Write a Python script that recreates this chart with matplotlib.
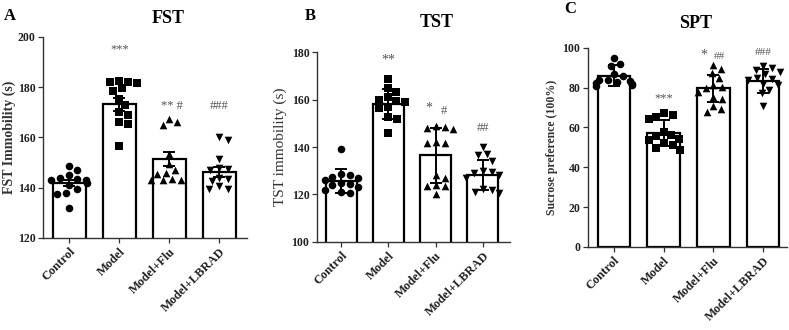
import numpy as np
import matplotlib
matplotlib.use('Agg')
import matplotlib.pyplot as plt

plt.rcParams['font.family'] = ['Liberation Serif', 'DejaVu Serif']

groups = ['Control', 'Model', 'Model+Flu', 'Model+LBRAD']
markers = ['o', 's', '^', 'v']

# FST (mean +/- SEM)
fst_mean = [141.8, 173.2, 151.5, 146.2]
fst_err = [1.3, 2.5, 2.9, 2.1]
fst_pts = [
    [148.5, 147, 145, 144, 143.5, 143, 143, 142, 141, 139.5, 138, 137.5, 132],
    [182.5, 182, 181.5, 182, 179.5, 178.5, 175.5, 173, 170, 169, 166, 165.5, 156.5],
    [167.5, 166, 165, 153.5, 149.5, 147, 146, 145.5, 143.5, 143, 143, 143],
    [160, 159, 151.5, 148, 147.5, 147, 144, 143.5, 142.5, 140.5, 139.5, 139.5],
]

# TST (mean +/- SD)
tst_mean = [125.8, 158.0, 136.5, 128.3]
tst_err = [5.0, 6.3, 11.5, 6.3]
tst_pts = [
    [139, 128.5, 128, 127.5, 127, 126, 125, 124.5, 124, 123, 122, 121, 120.5],
    [168.5, 165, 163, 161, 160, 159.5, 159, 157, 156.5, 152.5, 152, 146],
    [149, 148.5, 148, 147.5, 142, 141.5, 141.5, 128, 127, 124, 123.5, 123.5, 120],
    [140, 137, 136.5, 134, 130, 129.5, 129, 128, 127, 122.5, 122, 121, 120.5],
]

# SPT (mean +/- SD)
spt_mean = [86.0, 57.2, 79.6, 83.2]
spt_err = [5.2, 6.5, 6.8, 6.0]
spt_pts = [
    [95, 92, 91, 87, 86, 84, 84, 83.5, 83, 82.5, 82, 81.5, 81],
    [67.5, 66.5, 65.5, 64, 57.5, 56, 55.5, 54, 53.5, 52, 51, 49.5, 48.5],
    [91.5, 89.5, 87.5, 85, 81.5, 80.5, 80, 78, 75.5, 74.5, 71, 69.5, 68],
    [91, 90, 89, 88, 87, 85, 84.5, 84, 82, 81.5, 79, 77.5, 71],
]

TXT = '#222222'
GREY = '#555555'


def swarm_offsets(ax, xc, ys, diam=8.0, limit=0.36):
    """Spread points sideways (in pixels) so they don't overlap, like a beeswarm."""
    tr = ax.transData
    py = [tr.transform((xc, y))[1] for y in ys]
    x_scale = tr.transform((xc + 1, 0))[0] - tr.transform((xc, 0))[0]
    placed = []
    res = [0.0] * len(ys)
    for i in np.argsort(ys)[::-1]:
        yp = py[i]
        best = None
        for k in range(0, 40):
            for sgn in (1, -1):
                cand = sgn * k * 1.5
                if all((cand - p[0]) ** 2 + (yp - p[1]) ** 2 >= diam ** 2 for p in placed):
                    best = cand
                    break
            if best is not None:
                break
        if best is None:
            best = 0.0
        best = max(min(best / x_scale, limit), -limit) * x_scale
        placed.append((best, yp))
        res[i] = xc + best / x_scale
    return res


def panel(ax, means, errs, pts, ylim, yticks, xlim, width):
    x = np.arange(len(groups))
    ax.set_xlim(*xlim)
    ax.set_ylim(*ylim)
    ax.bar(x, means, width=width, color='white', edgecolor='black', linewidth=1.6, zorder=1)
    for i, ys in enumerate(pts):
        xs = swarm_offsets(ax, x[i], ys)
        ax.scatter(xs, ys, marker=markers[i], s=30, color='black', linewidths=0, zorder=2, clip_on=False)
    ax.errorbar(x, means, yerr=errs, fmt='none', ecolor='black', elinewidth=1.4,
                capsize=4.5, capthick=1.4, zorder=3)
    ax.set_yticks(yticks)
    ax.set_xticks(x)
    ax.set_xticklabels(groups, rotation=45, ha='right', rotation_mode='anchor',
                       fontsize=9, fontweight='bold', color=TXT)
    for lab in ax.get_yticklabels():
        lab.set_fontweight('bold')
        lab.set_fontsize(8.5)
        lab.set_color(TXT)
    for s in ('top', 'right'):
        ax.spines[s].set_visible(False)
    for s in ('left', 'bottom'):
        ax.spines[s].set_color('#333333')
        ax.spines[s].set_linewidth(1.0)
    ax.tick_params(direction='out', length=3.5, width=0.9, color='#333333', pad=2)


fig = plt.figure(figsize=(7.89, 3.30), dpi=100)

axA = fig.add_axes([0.0545, 0.279, 0.2585, 0.609])
panel(axA, fst_mean, fst_err, fst_pts, (120, 200), [120, 140, 160, 180, 200], (-0.53, 3.55), 0.66)
axA.set_ylabel('FST Immobility (s)', fontsize=10, fontweight='bold', color='#333333', labelpad=1)
axA.text(1, 195, '***', ha='center', va='center', fontsize=9, color=GREY)
axA.text(2.05, 172.5, '** #', ha='center', va='center', fontsize=9, color=GREY)
axA.text(3, 172.5, '###', ha='center', va='center', fontsize=9, color=GREY)

axB = fig.add_axes([0.4018, 0.267, 0.2442, 0.575])
panel(axB, tst_mean, tst_err, tst_pts, (100, 180), [100, 120, 140, 160, 180], (-0.51, 3.57), 0.66)
axB.set_ylabel('TST immobility (s)', fontsize=11, color='#333333', labelpad=3)
axB.text(1, 176.5, '**', ha='center', va='center', fontsize=10, color=GREY)
axB.text(1.85, 156.3, '*', ha='center', va='center', fontsize=10, color=GREY)
axB.text(2.18, 155.3, '#', ha='center', va='center', fontsize=9, color=GREY)
axB.text(3, 148, '##', ha='center', va='center', fontsize=9, color=GREY)

axC = fig.add_axes([0.7452, 0.252, 0.2523, 0.603])
panel(axC, spt_mean, spt_err, spt_pts, (0, 100), [0, 20, 40, 60, 80, 100], (-0.52, 3.48), 0.65)
axC.set_ylabel('Sucrose preference (100%)', fontsize=8.5, fontweight='bold', color='#333333', labelpad=3)
axC.text(1, 74.5, '***', ha='center', va='center', fontsize=9, color=GREY)
axC.text(1.8, 96.5, '*', ha='center', va='center', fontsize=10, color=GREY)
axC.text(2.12, 95.5, '##', ha='center', va='center', fontsize=8, color=GREY)
axC.text(3, 97.5, '###', ha='center', va='center', fontsize=8, color=GREY)

# panel letters and titles
fig.text(0.012, 0.953, 'A', fontsize=12, fontweight='bold', ha='center', va='center')
fig.text(0.213, 0.945, 'FST', fontsize=13, fontweight='bold', ha='center', va='center')
fig.text(0.393, 0.953, 'B', fontsize=12, fontweight='bold', ha='center', va='center')
fig.text(0.554, 0.933, 'TST', fontsize=13, fontweight='bold', ha='center', va='center')
fig.text(0.723, 0.972, 'C', fontsize=12, fontweight='bold', ha='center', va='center')
fig.text(0.881, 0.93, 'SPT', fontsize=13, fontweight='bold', ha='center', va='center')

fig.savefig('out.png', dpi=100)
